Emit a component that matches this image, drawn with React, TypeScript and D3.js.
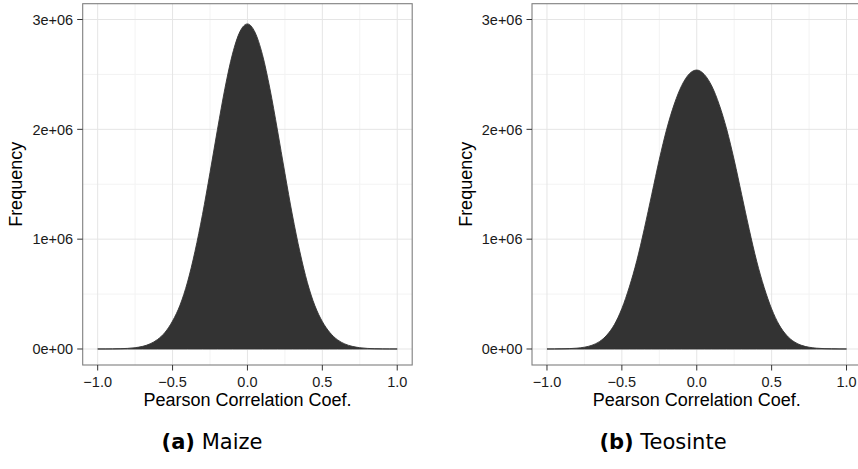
import React from "react";
import * as d3 from "d3";

// Bin centres of the correlation histogram (Pearson r)
const binCenters = [
  -1.0, -0.95, -0.9, -0.85, -0.8, -0.75, -0.7, -0.65, -0.6, -0.55, -0.5,
  -0.45, -0.4, -0.35, -0.3, -0.25, -0.2, -0.15, -0.1, -0.05, 0.0,
  0.05, 0.1, 0.15, 0.2, 0.25, 0.3, 0.35, 0.4, 0.45, 0.5,
  0.55, 0.6, 0.65, 0.7, 0.75, 0.8, 0.85, 0.9, 0.95, 1.0,
];

// Frequencies (units: millions)
const maizeFreqM = [
  0.0002, 0.0004, 0.0011, 0.0025, 0.0056, 0.012, 0.024, 0.047, 0.087, 0.152, 0.255,
  0.4, 0.61, 0.89, 1.225, 1.605, 2.0, 2.375, 2.685, 2.89, 2.96,
  2.885, 2.68, 2.37, 1.995, 1.6, 1.22, 0.885, 0.605, 0.395, 0.25,
  0.15, 0.085, 0.046, 0.024, 0.012, 0.0055, 0.0024, 0.001, 0.0004, 0.0002,
];

const teosinteFreqM = [
  0.0002, 0.0006, 0.0015, 0.0035, 0.0078, 0.0165, 0.034, 0.067, 0.127, 0.222, 0.368,
  0.565, 0.805, 1.095, 1.41, 1.725, 2.005, 2.23, 2.4, 2.505, 2.54,
  2.5, 2.395, 2.225, 2.0, 1.72, 1.405, 1.09, 0.8, 0.56, 0.365,
  0.22, 0.125, 0.066, 0.033, 0.016, 0.0075, 0.0033, 0.0014, 0.0005, 0.0002,
];

const xTicks = [-1, -0.5, 0, 0.5, 1];
const xTickLabels = ["\u22121.0", "\u22120.5", "0.0", "0.5", "1.0"];
const xMinorTicks = [-0.75, -0.25, 0.25, 0.75];
const yTicks = [0, 1e6, 2e6, 3e6];
const yTickLabels = ["0e+00", "1e+06", "2e+06", "3e+06"];
const yMinorTicks = [0.5e6, 1.5e6, 2.5e6];

const xAxisTitle = "Pearson Correlation Coef.";
const yAxisTitle = "Frequency";
const panelTags = ["(a)", "(b)"];
const panelNames = ["Maize", "Teosinte"];

const W = 858;
const H = 469;
const PANEL_W = 329.5;
const PANEL_TOP = 3.7;
const PANEL_BOTTOM = 365;
const panelLefts = [82.7, 532];
const captionCenters = [212, 663];

const xDomain: [number, number] = [-1.1, 1.1];
const yDomain: [number, number] = [-0.1457e6, 3.144e6];

const tickFont = "'Liberation Sans', Arial, Helvetica, sans-serif";

function Panel({ idx, freqM }: { idx: number; freqM: number[] }) {
  const left = panelLefts[idx];
  const x = d3.scaleLinear().domain(xDomain).range([left, left + PANEL_W]);
  const y = d3.scaleLinear().domain(yDomain).range([PANEL_BOTTOM, PANEL_TOP]);
  const data: [number, number][] = binCenters.map((c, i) => [c, freqM[i] * 1e6]);
  const area = d3
    .area<[number, number]>()
    .x((d) => x(d[0]))
    .y0(y(0))
    .y1((d) => y(d[1]))
    .curve(d3.curveMonotoneX);
  const cx = left + PANEL_W / 2;
  const cy = (PANEL_TOP + PANEL_BOTTOM) / 2;
  return (
    <g>
      <rect x={left} y={PANEL_TOP} width={PANEL_W} height={PANEL_BOTTOM - PANEL_TOP} fill="#ffffff" />
      {xMinorTicks.map((t) => (
        <line key={"xm" + t} x1={x(t)} x2={x(t)} y1={PANEL_TOP} y2={PANEL_BOTTOM} stroke="#f3f3f3" strokeWidth={1} />
      ))}
      {yMinorTicks.map((t) => (
        <line key={"ym" + t} x1={left} x2={left + PANEL_W} y1={y(t)} y2={y(t)} stroke="#f3f3f3" strokeWidth={1} />
      ))}
      {xTicks.map((t) => (
        <line key={"xg" + t} x1={x(t)} x2={x(t)} y1={PANEL_TOP} y2={PANEL_BOTTOM} stroke="#e5e5e5" strokeWidth={1} />
      ))}
      {yTicks.map((t) => (
        <line key={"yg" + t} x1={left} x2={left + PANEL_W} y1={y(t)} y2={y(t)} stroke="#e5e5e5" strokeWidth={1} />
      ))}
      <path d={area(data) || ""} fill="#333333" stroke="#333333" strokeWidth={0.9} strokeLinejoin="round" />
      <rect x={left} y={PANEL_TOP} width={PANEL_W} height={PANEL_BOTTOM - PANEL_TOP} fill="none" stroke="#7f7f7f" strokeWidth={1.1} />
      {yTicks.map((t, i) => (
        <g key={"yt" + t}>
          <line x1={left - 5.5} x2={left} y1={y(t)} y2={y(t)} stroke="#333" strokeWidth={1} />
          <text x={left - 9.5} y={y(t)} dy="0.36em" textAnchor="end" fontFamily={tickFont} fontSize={14.5} fill="#1a1a1a">
            {yTickLabels[i]}
          </text>
        </g>
      ))}
      {xTicks.map((t, i) => (
        <g key={"xt" + t}>
          <line x1={x(t)} x2={x(t)} y1={PANEL_BOTTOM} y2={PANEL_BOTTOM + 5.5} stroke="#333" strokeWidth={1} />
          <text x={x(t)} y={386.5} textAnchor="middle" fontFamily={tickFont} fontSize={14.5} fill="#1a1a1a">
            {xTickLabels[i]}
          </text>
        </g>
      ))}
      <text x={cx} y={406} textAnchor="middle" fontFamily={tickFont} fontSize={18} fill="#000">
        {xAxisTitle}
      </text>
      <text
        transform={`translate(${left - 60.5},${cy}) rotate(-90)`}
        textAnchor="middle"
        fontFamily={tickFont}
        fontSize={18}
        fill="#000"
      >
        {yAxisTitle}
      </text>
      <text x={captionCenters[idx]} y={449} textAnchor="middle" fontFamily="'DejaVu Sans', sans-serif" fontSize={21} fill="#000">
        <tspan fontWeight="bold">{panelTags[idx]}</tspan>
        <tspan> {panelNames[idx]}</tspan>
      </text>
    </g>
  );
}

export default function App() {
  return (
    <svg
      width={W}
      height={H}
      viewBox={`0 0 ${W} ${H}`}
      style={{ position: "absolute", left: 0, top: 0, background: "#fff" }}
    >
      <rect width={W} height={H} fill="#fff" />
      <Panel idx={0} freqM={maizeFreqM} />
      <Panel idx={1} freqM={teosinteFreqM} />
    </svg>
  );
}
